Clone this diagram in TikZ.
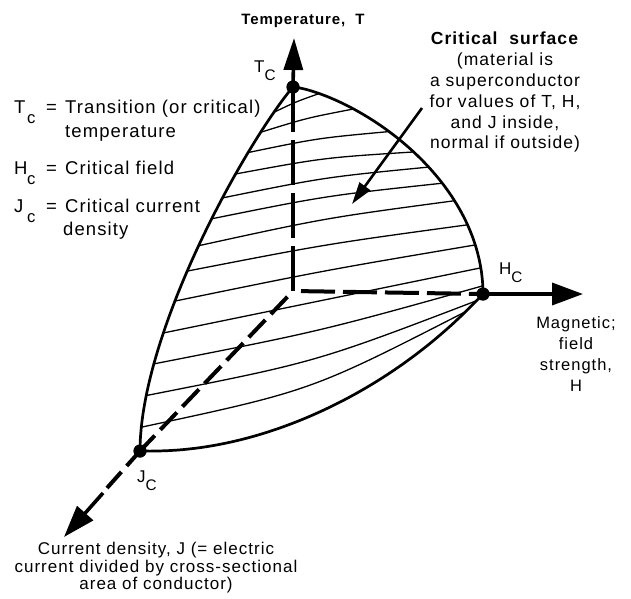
\documentclass[tikz,border=0pt]{standalone}
\usepackage{fontspec}
\setmainfont{Liberation Sans}[LetterSpace=6]
\usepackage{graphicx}
\usetikzlibrary{arrows.meta}
\newcommand\lsub[2][0.55em]{\raisebox{-#1}{\scalebox{0.9}{#2}}}
\begin{document}
\begin{tikzpicture}[x=1pt,y=-1pt,
  declare function={
    rp(\p)=exp(1.4*ln(max(cos(\p),0.0001)));
    cc(\a)=exp(0.87*ln(max(cos(\a),0.0001)));
    ss(\a)=exp(0.87*ln(max(sin(\a),0.0001)));
  },
  hatch/.style={line width=1.3pt},
  edge/.style={line width=2.7pt, line cap=round, line join=round},
  axisline/.style={line width=3.6pt},
  dashaxis/.style={line width=4pt},
  dot/.style={circle, fill=black, inner sep=0pt, minimum size=13pt},
  txt/.style={inner sep=0pt, font=\fontsize{17}{17.5}\selectfont},
  leg/.style={inner sep=0pt, anchor=base west, font=\fontsize{18.5}{20}\selectfont},
]
\useasboundingbox (0,0) rectangle (631,598);

% hatch lines across the critical surface
\foreach \tl/\kind/\tr/\b in {0.974/r/0.97/1, 0.944/r/0.897/2, 0.909/r/0.789/3, 0.868/r/0.691/4,
  0.818/r/0.618/4, 0.771/r/0.54/4, 0.706/r/0.455/4, 0.64/r/0.338/3, 0.556/r/0.24/2,
  0.459/r/0.128/0, 0.356/r/0.04/-5, 0.24/b/88.5/-11, 0.11/b/85.5/-17} {
  \pgfmathsetmacro\pl{asin(\tl)}
  \pgfmathsetmacro\xl{293-153*rp(\pl)}
  \pgfmathsetmacro\yl{291+160*rp(\pl)-204*\tl}
  \if\kind r
    \pgfmathsetmacro\pr{asin(\tr)}
    \pgfmathsetmacro\xr{293+190*rp(\pr)}
    \pgfmathsetmacro\yr{291+3*rp(\pr)-204*\tr}
  \else
    \pgfmathsetmacro\xr{293-153*cc(\tr)+190*ss(\tr)}
    \pgfmathsetmacro\yr{291+160*cc(\tr)+3*ss(\tr)}
  \fi
  \pgfmathsetmacro\len{veclen(\xr-\xl,\yr-\yl)}
  \pgfmathsetmacro\cx{(\xl+\xr)/2+(\b/0.75)*(\yr-\yl)/\len}
  \pgfmathsetmacro\cy{(\yl+\yr)/2-(\b/0.75)*(\xr-\xl)/\len}
  \draw[hatch] (\xl,\yl) .. controls (\cx,\cy) .. (\xr,\yr);
}

% boundary of the critical surface
\draw[edge] plot[domain=0:90, samples=90, variable=\p] ({293-153*rp(\p)}, {291+160*rp(\p)-204*sin(\p)});
\draw[edge] plot[domain=0:90, samples=90, variable=\p] ({293+190*rp(\p)}, {291+3*rp(\p)-204*sin(\p)});
\draw[edge] plot[domain=0:90, samples=90, variable=\a] ({293-153*cc(\a)+190*ss(\a)}, {291+160*cc(\a)+3*ss(\a)});

% key points
\coordinate (O) at (293,291);
\node[dot] (TC) at (293,87) {};
\node[dot] (HC) at (483,294) {};
\node[dot] (JC) at (140,451) {};
\coordinate (Ttip) at (294,38);
\coordinate (Htip) at (583,294);
\coordinate (Jtip) at (64,537);
\coordinate (jb) at (107,488);
\coordinate (jb2) at (103,493);

% axes
\draw[dashaxis, dash pattern=on 45pt off 8pt] (TC.center) -- (O);
\draw[dashaxis, dash pattern=on 34pt off 8pt, dash phase=34pt] (O) -- (HC.center);
\draw[dashaxis, dash pattern=on 24pt off 8pt, dash phase=24pt] (O) -- (JC.center);
\draw[dashaxis, dash pattern=on 24pt off 8pt, dash phase=4pt] (JC.center) -- (jb);
\draw[axisline, -{Triangle[length=32pt,width=19pt]}] (TC.center) -- (Ttip);
\draw[axisline, -{Triangle[length=31pt,width=22pt]}] (HC.center) -- (Htip);
\draw[axisline, -{Triangle[length=32pt,width=21pt]}] (jb2) -- (Jtip);
\node[dot] at (TC) {};
\node[dot] at (HC) {};
\node[dot] at (JC) {};

% critical surface pointer
\coordinate (ca) at (422,108);
\coordinate (cb) at (352,204);
\draw[line width=2.6pt, -{Triangle[length=22pt,width=13pt]}] (ca) -- (cb);

% labels
\node[anchor=base, inner sep=0pt, font=\bfseries\fontsize{15}{15}\selectfont] (tlab) at (303,24) {Temperature,\ \ T};
\node[align=center, anchor=north, inner sep=0pt, font=\fontsize{17.5}{20.8}\selectfont] (crit) at (505,32)
  {\textbf{Critical\ \ surface}\\(material is\\a superconductor\\for values of T, H,\\and J inside,\\normal if outside)};
\node[txt, anchor=base west] (tcl) at (254,72) {T\lsub[0.5em]{C}};
\node[txt, anchor=base west] (hcl) at (499,274) {H\lsub[0.5em]{C}};
\node[txt, anchor=base west] (jcl) at (137,482) {J\lsub[0.5em]{C}};

\node[leg] (l1s) at (14,113) {\makebox[13pt][l]{T}\lsub{c}};
\node[leg] (l1e) at (46,113) {=};
\node[leg] (l1t) at (65,113) {Transition (or critical)};
\node[leg] (l1u) at (65,137) {temperature};
\node[leg] (l2s) at (14,174) {\makebox[13pt][l]{H}\lsub{c}};
\node[leg] (l2e) at (46,174) {=};
\node[leg] (l2t) at (65,174) {Critical field};
\node[leg] (l3s) at (14,212) {\makebox[13pt][l]{J}\lsub{c}};
\node[leg] (l3e) at (46,212) {=};
\node[leg] (l3t) at (65,212) {Critical current};
\node[leg] (l3u) at (63,235) {density};

\node[align=center, anchor=north, inner sep=0pt, font=\fontsize{16.5}{21}\selectfont] (mag) at (576,316)
  {Magnetic;\\field\\strength,\\H};
\node[align=center, anchor=north, inner sep=0pt, font=\fontsize{17}{17.5}\selectfont] (cur) at (156,542)
  {Current density, J (= electric\\current divided by cross-sectional\\area of conductor)};
\end{tikzpicture}
\end{document}
